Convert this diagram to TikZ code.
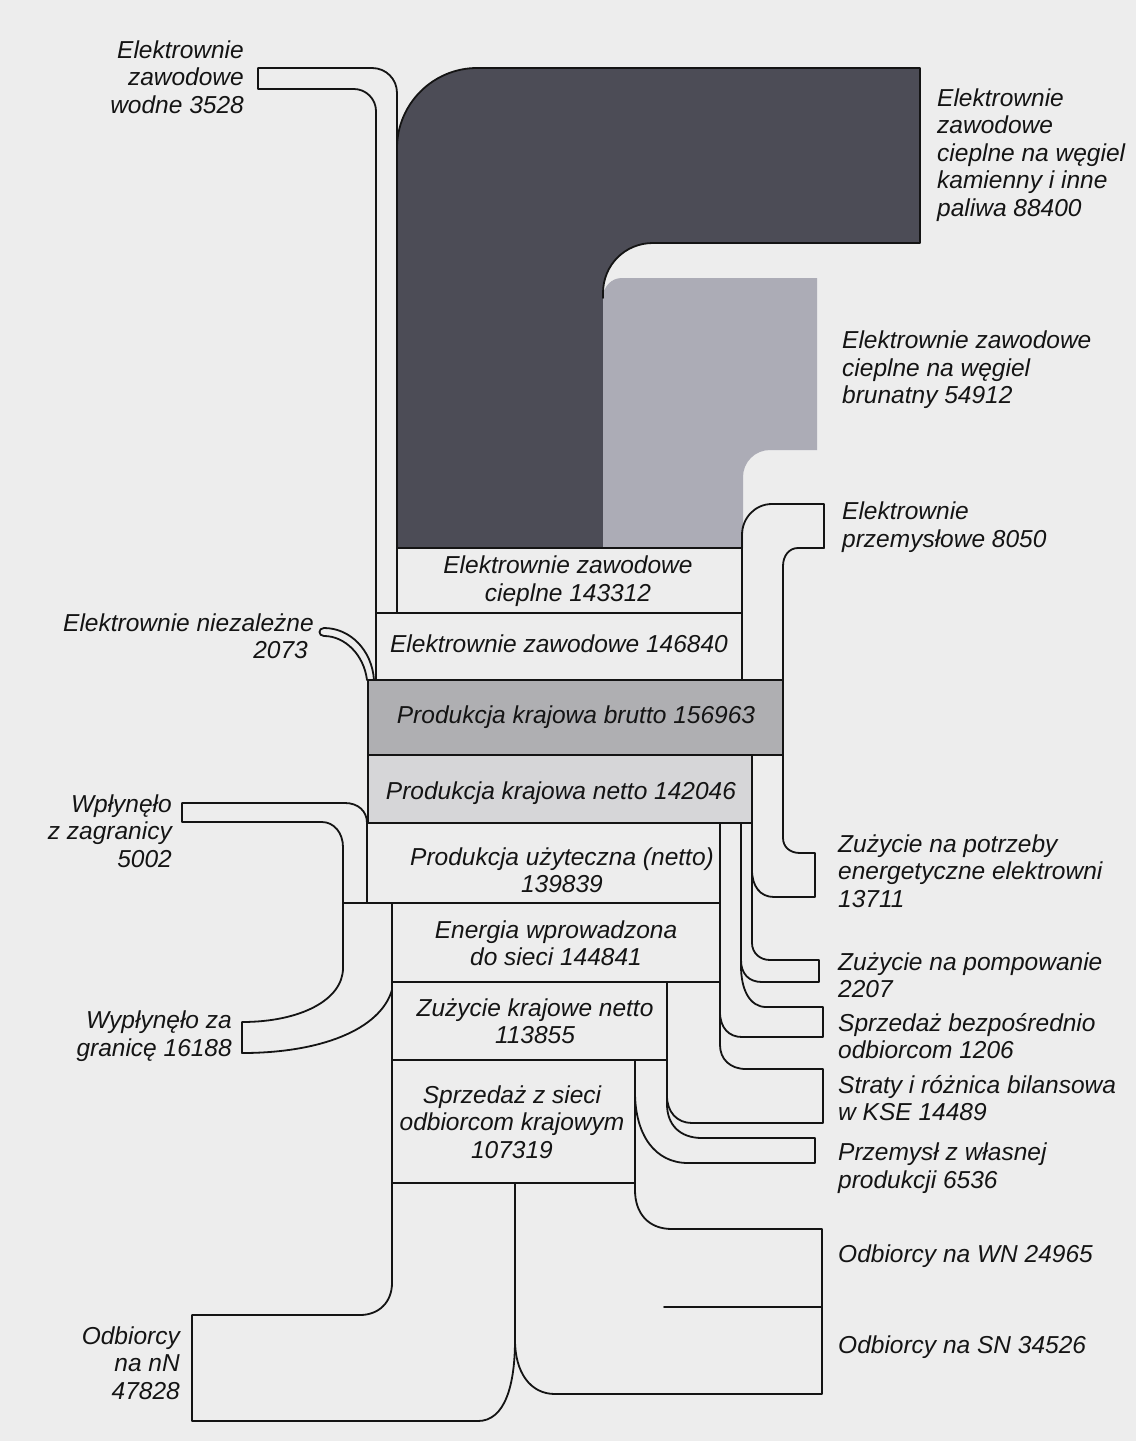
\documentclass[tikz,border=0pt]{standalone}
\usepackage{fontspec}
\setmainfont{Liberation Sans}
\newcommand\lblsize{\fontsize{24.5}{27.5}\selectfont\itshape}
\definecolor{pagebg}{RGB}{237,237,237}
\definecolor{darkfl}{RGB}{76,76,86}
\definecolor{lightfl}{RGB}{172,172,182}
\definecolor{bruttofl}{RGB}{175,175,178}
\definecolor{nettofl}{RGB}{214,214,216}
\definecolor{inkc}{RGB}{20,20,20}
\tikzset{
  ln/.style={draw=inkc, line width=1.8pt, line join=round, line cap=round},
  lbl/.style={font=\lblsize, inner sep=0pt, text=inkc},
  lbll/.style={lbl, anchor=west, align=left},
  lblr/.style={lbl, anchor=east, align=right},
  lblc/.style={lbl, anchor=center, align=center},
}
\begin{document}
\begin{tikzpicture}[x=1pt,y=-1pt]
\useasboundingbox (0,0) rectangle (1136,1441);
\fill[pagebg] (0,0) rectangle (1136,1441);

% filled regions
\fill[darkfl] (397,548) -- (397,148) .. controls (397,104) and (433,68) .. (477,68) -- (920,68) -- (920,243) -- (653,243) .. controls (625,243) and (603,265) .. (603,293) -- (603,548) -- cycle;
\fill[lightfl] (603,548) -- (603,298) .. controls (603,287) and (611,278) .. (622,278) -- (817,278) -- (817,450) -- (770,450) .. controls (755,450) and (743,462) .. (743,477) -- (743,548) -- cycle;
\draw[ln, fill=bruttofl] (368,680) rectangle (783,755);
\draw[ln, fill=nettofl] (368,755) rectangle (752,823);

% outline of dark region
\draw[ln] (603,298) -- (603,293) .. controls (603,265) and (625,243) .. (653,243) -- (920,243) -- (920,68) -- (477,68) .. controls (433,68) and (397,104) .. (397,148) -- (397,613);

% water band
\draw[ln] (376,680) -- (376,111) .. controls (376,99) and (366,89) .. (354,89) -- (258,89) -- (258,68) -- (372,68) .. controls (386,68) and (397,79) .. (397,93) -- (397,150);

% box lines
\draw[ln] (397,548) -- (742,548);
\draw[ln] (376,613) -- (742,613);
\draw[ln] (367,823) -- (367,903);
\draw[ln] (343,903) -- (720,903);
\draw[ln] (392,982) -- (720,982);
\draw[ln] (392,1060) -- (667,1060);
\draw[ln] (392,1183) -- (635,1183);

% independent plants
\draw[ln] (374,680) .. controls (372,650) and (350,628) .. (324,628) .. controls (318,628) and (318,636) .. (324,636) .. controls (345,636) and (364,655) .. (367,680);

% industrial plants band
\draw[ln] (824,548) -- (824,504) -- (772,504) .. controls (755,504) and (742,518) .. (742,535) -- (742,680);
\draw[ln] (824,548) -- (798,548) .. controls (789,548) and (783,556) .. (783,566) -- (783,838) .. controls (783,847) and (790,853) .. (800,853) -- (815,853) -- (815,897) -- (774,897) .. controls (760,897) and (752,886) .. (752,870);

% pumping
\draw[ln] (752,823) -- (752,943) .. controls (752,953) and (760,960) .. (770,960) -- (819,960) -- (819,982) -- (762,982) .. controls (749,982) and (741,974) .. (741,960);
\draw[ln] (741,823) -- (741,968);

% direct sales
\draw[ln] (741,966) .. controls (741,990) and (750,1007) .. (766,1007) -- (823,1007) -- (823,1037) -- (742,1037) .. controls (729,1037) and (720,1028) .. (720,1012);
\draw[ln] (720,823) -- (720,1045) .. controls (720,1059) and (730,1069) .. (746,1069) -- (823,1069) -- (823,1123) -- (692,1123) .. controls (677,1123) and (667,1112) .. (667,1096);

% industry own production
\draw[ln] (667,982) -- (667,1104) .. controls (667,1125) and (680,1138) .. (702,1138) -- (815,1138) -- (815,1163) -- (688,1163) .. controls (655,1163) and (635,1135) .. (635,1092);

% WN / SN
\draw[ln] (635,1060) -- (635,1190) .. controls (635,1213) and (648,1229) .. (672,1229) -- (822,1229) -- (822,1394) -- (555,1394) .. controls (530,1394) and (515,1372) .. (515,1340) -- (515,1183);
\draw[ln] (664,1307) -- (822,1307);

% nN
\draw[ln] (515,1340) .. controls (515,1385) and (505,1421) .. (478,1421) -- (192,1421) -- (192,1315) -- (360,1315) .. controls (379,1315) and (392,1302) .. (392,1283) -- (392,903);

% import / export
\draw[ln] (367,823) .. controls (367,811) and (358,803) .. (345,803) -- (182,803) -- (182,822) -- (322,822) .. controls (334,822) and (343,833) .. (343,847) -- (343,968) .. controls (343,1000) and (300,1022) .. (242,1022) -- (242,1053) .. controls (320,1053) and (380,1030) .. (392,990);

% box labels
\node[lblc] (b143312) at (568,581) {Elektrownie zawodowe\\cieplne 143312};
\node[lblc] (b146840) at (559,644) {Elektrownie zawodowe 146840};
\node[lblc] (bbrutto) at (576,717) {Produkcja krajowa brutto 156963};
\node[lblc] (bnetto) at (561,793) {Produkcja krajowa netto 142046};
\node[lblc] (buzyt) at (562,870) {Produkcja użyteczna (netto)\\139839};
\node[lblc] (benerg) at (556,943) {Energia wprowadzona\\do sieci 144841};
\node[lblc] (bkraj) at (535,1021) {Zużycie krajowe netto\\113855};
\node[lblc] (bsprz) at (512,1122) {Sprzedaż z sieci\\odbiorcom krajowym\\107319};

% right labels
\node[lbll] (l88400) at (937,155) {Elektrownie\\zawodowe\\cieplne na węgiel\\kamienny i inne\\paliwa 88400};
\node[lbll] (l54912) at (842,370) {Elektrownie zawodowe\\cieplne na węgiel\\brunatny 54912};
\node[lbll] (l8050) at (842,527) {Elektrownie\\przemysłowe 8050};
\node[lbll] (l13711) at (838,871) {Zużycie na potrzeby\\energetyczne elektrowni\\13711};
\node[lbll] (l2207) at (838,975) {Zużycie na pompowanie\\2207};
\node[lbll] (l1206) at (838,1036) {Sprzedaż bezpośrednio\\odbiorcom 1206};
\node[lbll] (l14489) at (838,1098) {Straty i różnica bilansowa\\w KSE 14489};
\node[lbll] (l6536) at (838,1168) {Przemysł z własnej\\produkcji 6536};
\node[lbll] (lwn) at (838,1256) {Odbiorcy na WN 24965};
\node[lbll] (lsn) at (838,1347) {Odbiorcy na SN 34526};

% left labels
\node[lblr] (lwodne) at (244,77) {Elektrownie\\zawodowe\\wodne 3528};
\node[lblr] (lniez) at (314,636) {Elektrownie niezależne\\2073\hspace*{6pt}};
\node[lblr] (limport) at (172,831) {Wpłynęło\\z zagranicy\\5002};
\node[lblr] (lexport) at (232,1036) {Wypłynęło za\\granicę 16188};
\node[lblr] (lnn) at (180,1363) {Odbiorcy\\na nN\\47828};
\end{tikzpicture}
\end{document}
